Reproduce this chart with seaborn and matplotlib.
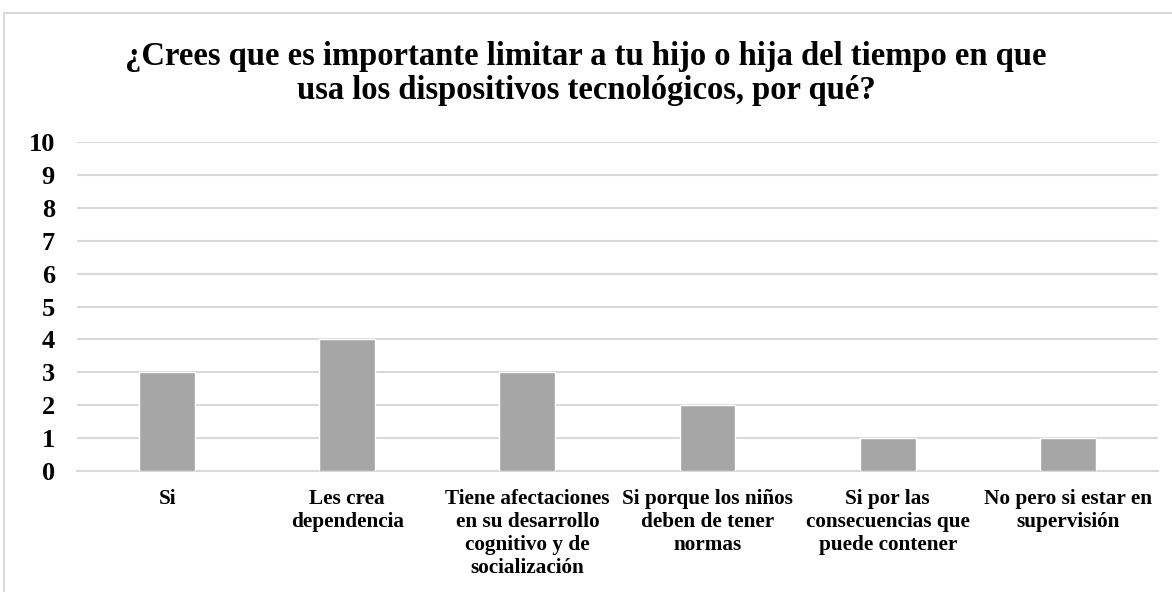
import matplotlib
matplotlib.use("Agg")
import matplotlib.pyplot as plt
import seaborn as sns
import pandas as pd
from matplotlib.lines import Line2D

categories = ["Si", "Les crea\ndependencia", "Tiene afectaciones\nen su desarrollo\ncognitivo y de\nsocialización",
              "Si porque los niños\ndeben de tener\nnormas", "Si por las\nconsecuencias que\npuede contener",
              "No pero si estar en\nsupervisión"]
values = [3, 4, 3, 2, 1, 1]
yticks = list(range(0, 11))
title = "¿Crees que es importante limitar a tu hijo o hija del tiempo en que\nusa los dispositivos tecnológicos, por qué?"

sns.set_theme(style="white")
plt.rcParams['font.family'] = ['Liberation Serif', 'DejaVu Serif']
plt.rcParams['font.weight'] = 'bold'
plt.rcParams['text.color'] = 'black'

fig = plt.figure(figsize=(11.72, 5.92), dpi=100)
ax = fig.add_axes([0.0657, 0.2044, 0.9223, 0.5556])

df = pd.DataFrame({"cat": categories, "val": values})
sns.barplot(data=df, x="cat", y="val", color="#a6a6a6", width=0.31, ax=ax, zorder=3, saturation=1)

ax.set_ylim(0, 10)
ax.set_xlim(-0.5, len(categories) - 0.5)
ax.set_yticks(yticks)
ax.set_yticklabels([str(t) for t in yticks], fontsize=19, fontweight='bold', color='black')
ax.set_xticks(range(len(categories)))
ax.set_xticklabels(categories, fontsize=15.3, fontweight='bold', linespacing=1.2, va='top', color='black')
ax.tick_params(axis='both', length=0, colors='black')
ax.tick_params(axis='x', pad=13)
ax.tick_params(axis='y', pad=16)
ax.set_xlabel("")
ax.set_ylabel("")
ax.yaxis.grid(True, color="#d9d9d9", linewidth=1.5, zorder=0)
ax.xaxis.grid(False)
for s in ["top", "right", "left"]:
    ax.spines[s].set_visible(False)
ax.spines["bottom"].set_color("#d9d9d9")
ax.spines["bottom"].set_linewidth(1.5)

fig.text(0.5, 0.876, title, ha="center", va="center", fontsize=23.5, fontweight="bold",
         linespacing=1.12, color="black")

# chart frame (top and left edges visible)
fig.add_artist(Line2D([4/1172, 1.0], [1 - 13/592, 1 - 13/592], color="#d9d9d9", lw=1.5, transform=fig.transFigure))
fig.add_artist(Line2D([4/1172, 4/1172], [0, 1 - 13/592], color="#d9d9d9", lw=1.5, transform=fig.transFigure))

fig.savefig("out.png", dpi=100, facecolor="white")
